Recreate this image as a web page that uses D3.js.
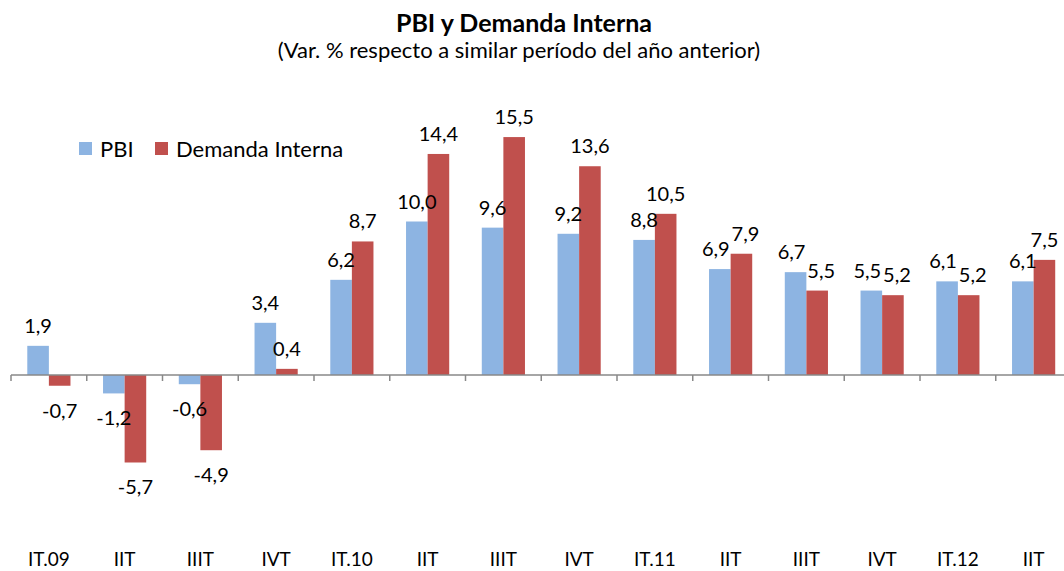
<!DOCTYPE html>
<html>
<head>
<meta charset="utf-8">
<script src="https://cdn.jsdelivr.net/npm/d3@7"></script>
<style>
  body { margin: 0; background: #fff; }
  svg { font-family: Lato, "Open Sans", sans-serif; }
</style>
</head>
<body>
<div id="chart"></div>
<script>
const categories = ['IT.09', 'IIT', 'IIIT', 'IVT', 'IT.10', 'IIT', 'IIIT', 'IVT', 'IT.11', 'IIT', 'IIIT', 'IVT', 'IT.12', 'IIT'];
const pbi = [1.9, -1.2, -0.6, 3.4, 6.2, 10.0, 9.6, 9.2, 8.8, 6.9, 6.7, 5.5, 6.1, 6.1];
const demanda = [-0.7, -5.7, -4.9, 0.4, 8.7, 14.4, 15.5, 13.6, 10.5, 7.9, 5.5, 5.2, 5.2, 7.5];
const seriesNames = ['PBI', 'Demanda Interna'];
const colors = ['#8db4e2', '#c0504d'];

function initChart(divId) {
  const width = 1064,
      height = 571,
      zeroY = 375,
      pxPerUnit = 15.35;

  const svg = d3.select('#' + divId)
    .append('svg')
    .attr('width', width)
    .attr('height', height);

  const idx = categories.map(function(d, i) { return i; });

  const x = d3.scaleBand()
    .domain(idx)
    .range([11, 11 + categories.length * 75.75])
    .paddingInner(0.43)
    .paddingOuter(0.215);

  const xs = d3.scaleBand()
    .domain([0, 1])
    .range([0, x.bandwidth()]);

  const y = d3.scaleLinear()
    .domain([-10, 20])
    .range([zeroY + 10 * pxPerUnit, zeroY - 20 * pxPerUnit]);

  // title
  svg.append('text')
    .attr('x', 524).attr('y', 32)
    .attr('text-anchor', 'middle')
    .attr('font-size', 25).attr('font-weight', 'bold')
    .text('PBI y Demanda Interna');
  svg.append('text')
    .attr('x', 519).attr('y', 58)
    .attr('text-anchor', 'middle')
    .attr('font-size', 22)
    .text('(Var. % respecto a similar período del año anterior)');

  // legend
  const legendX = [79, 155];
  const leg = svg.selectAll('.legend')
    .data(seriesNames)
    .enter().append('g')
    .attr('class', 'legend')
    .attr('transform', function(d, i) { return 'translate(' + legendX[i] + ',142)'; });
  leg.append('rect')
    .attr('width', 13).attr('height', 13)
    .attr('fill', function(d, i) { return colors[i]; });
  leg.append('text')
    .attr('x', 21).attr('y', 15)
    .attr('font-size', 22)
    .text(function(d) { return d; });

  // bars
  const data = [];
  idx.forEach(function(i) {
    data.push({ i: i, s: 0, v: pbi[i], o: demanda[i] });
    data.push({ i: i, s: 1, v: demanda[i], o: pbi[i] });
  });

  const g = svg.append('g');

  g.selectAll('.bar')
    .data(data)
    .enter().append('rect')
    .attr('class', 'bar')
    .attr('fill', function(d) { return colors[d.s]; })
    .attr('x', function(d) { return x(d.i) + xs(d.s); })
    .attr('y', function(d) { return y(Math.max(0, d.v)); })
    .attr('width', xs.bandwidth())
    .attr('height', function(d) { return Math.abs(y(d.v) - y(0)); });

  // labels: nudge apart when the pair sits at nearly the same height
  function nudge(d) {
    const close = d.v > 0 && d.o > 0 && Math.abs(y(d.v) - y(d.o)) < 20;
    if (!close) return 0;
    return d.s === 0 ? -4 : 4;
  }

  g.selectAll('.lbl')
    .data(data)
    .enter().append('text')
    .attr('class', 'lbl')
    .attr('text-anchor', 'middle')
    .attr('font-size', 20)
    .attr('x', function(d) { return x(d.i) + xs(d.s) + xs.bandwidth() / 2 + nudge(d); })
    .attr('y', function(d) { return d.v >= 0 ? y(d.v) - 13 : y(d.v) + 32; })
    .text(function(d) { return d.v.toFixed(1).replace('.', ','); });

  // axis
  const axis = svg.append('g')
    .attr('transform', 'translate(0,' + y(0) + ')')
    .call(d3.axisBottom(x).tickSize(0).tickPadding(178)
      .tickFormat(function(i) { return categories[i]; }));
  axis.select('.domain').remove();
  axis.selectAll('text')
    .attr('font-size', 19)
    .attr('font-family', 'Lato, sans-serif')
    .attr('fill', '#000');

  const step = x.step();
  const x0 = x(0) - step * x.paddingInner() / 2;
  svg.append('line')
    .attr('x1', x0).attr('x2', width)
    .attr('y1', y(0)).attr('y2', y(0))
    .attr('stroke', '#888').attr('stroke-width', 1.5);
  svg.selectAll('.tick-mark')
    .data(d3.range(categories.length + 1))
    .enter().append('line')
    .attr('class', 'tick-mark')
    .attr('x1', function(i) { return x0 + i * step; })
    .attr('x2', function(i) { return x0 + i * step; })
    .attr('y1', y(0)).attr('y2', y(0) + 6)
    .attr('stroke', '#888').attr('stroke-width', 1.5);
}

initChart('chart');
</script>
</body>
</html>
